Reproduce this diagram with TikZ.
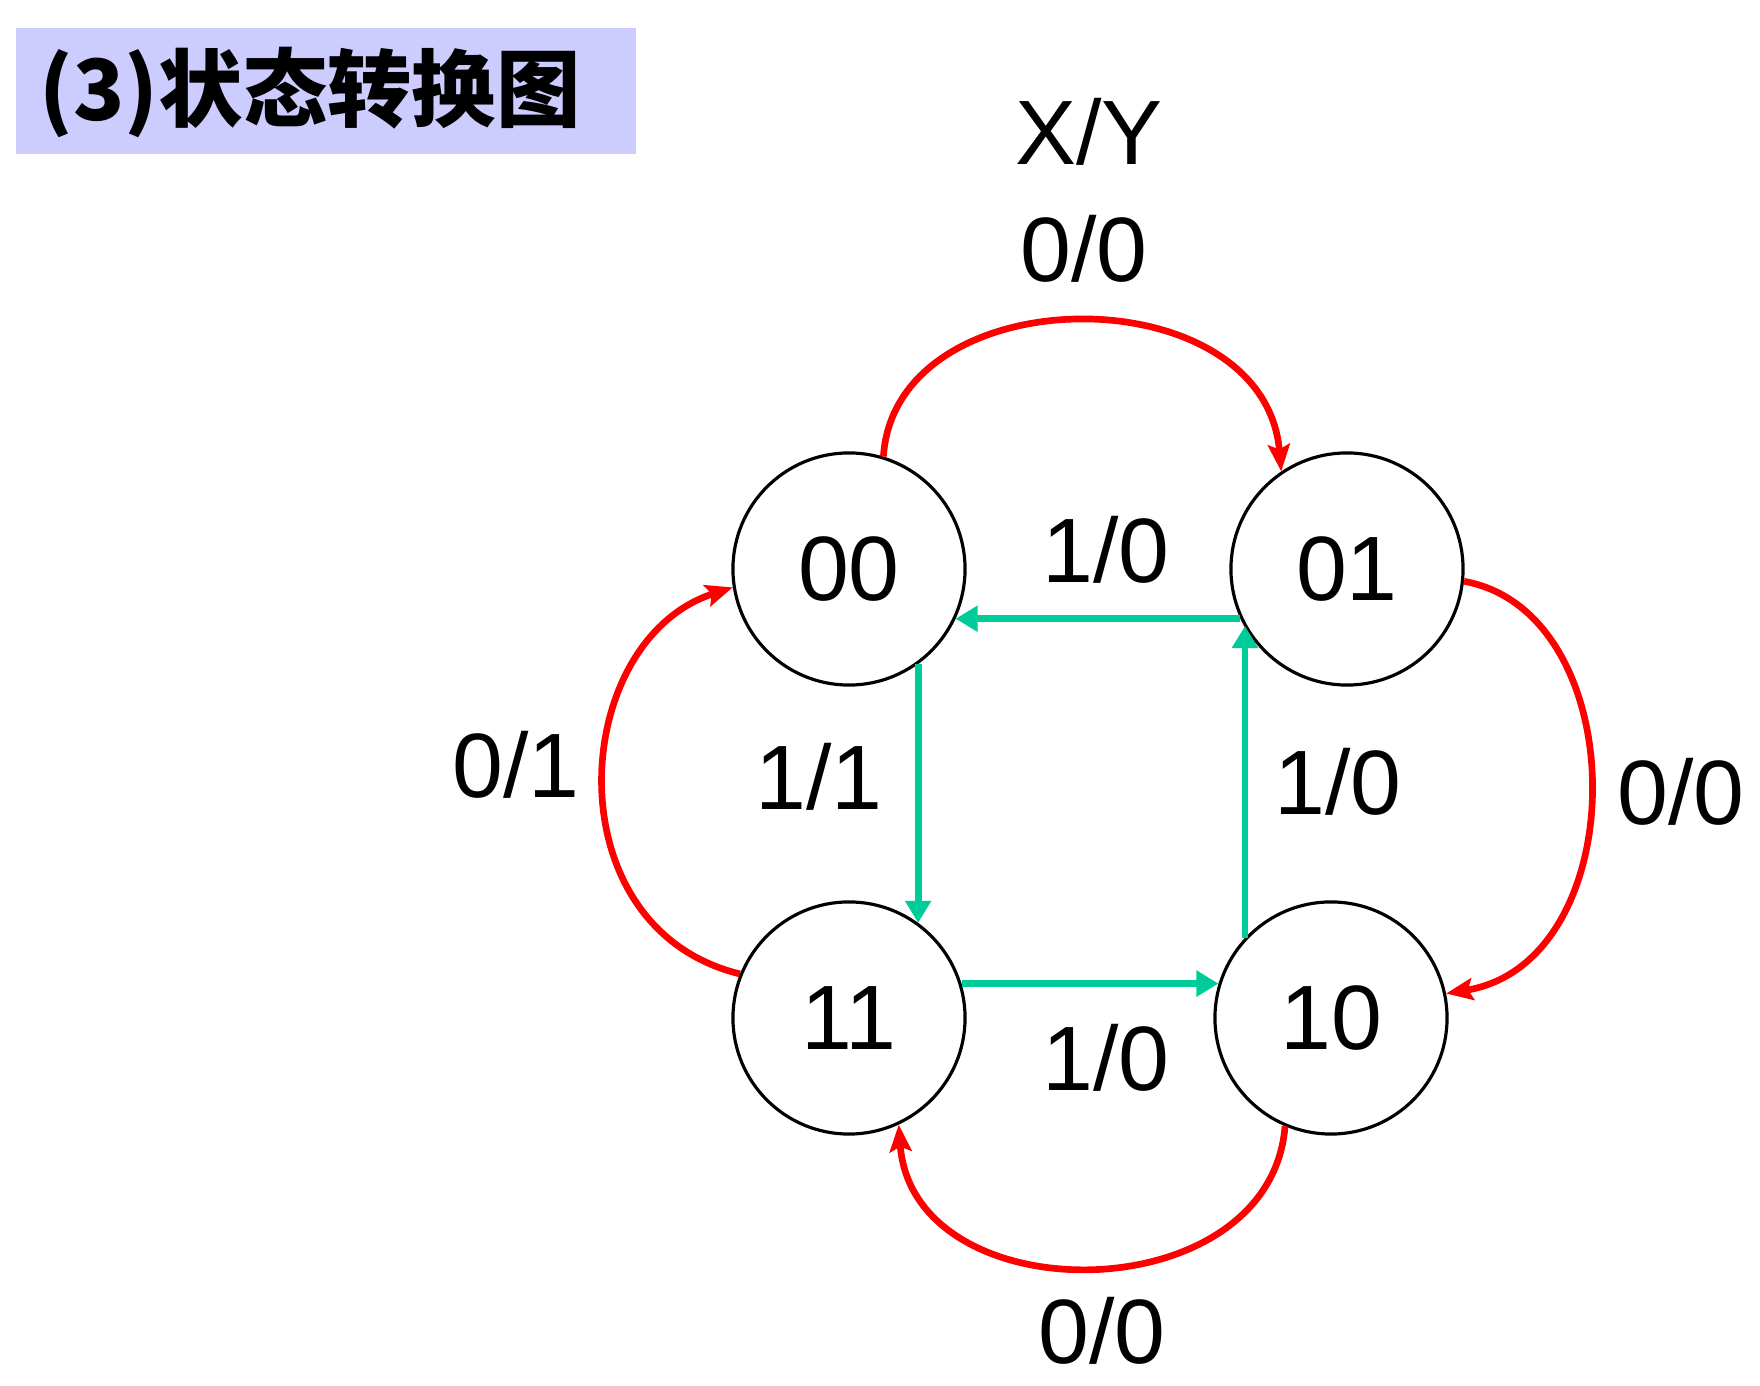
\documentclass[tikz,border=0pt]{standalone}
\usepackage{fontspec}
\setmainfont{Liberation Sans}
\newfontfamily\cjkfont{Noto Sans CJK SC}
\usepackage{tikz}
\usetikzlibrary{arrows.meta}
\definecolor{arcred}{HTML}{FF0000}
\definecolor{arcgreen}{HTML}{00CC99}
\definecolor{titleband}{HTML}{CCCCFF}

\begin{document}
\begin{tikzpicture}[x=0.01cm, y=-0.01cm,
  state/.style={circle, draw=black, line width=0.9pt, minimum size=2.32cm, inner sep=0pt,
    font=\fontsize{26}{31}\selectfont},
  lbl/.style={inner sep=0pt, font=\fontsize{26}{31}\selectfont},
  redarc/.style={arcred, line width=1.9pt, -{Stealth[length=0.27cm, width=0.22cm, inset=0.05cm]}},
  greenarc/.style={arcgreen, line width=1.9pt, -{Triangle[length=0.22cm, width=0.25cm]}}]

  \useasboundingbox (0,0) rectangle (1760,1386);

  % ── Title band ────────────────────────────────────────────────
  \fill[titleband] (16,28) rectangle (636,154);
  \node[anchor=west, inner sep=0pt, font=\cjkfont\bfseries\fontsize{24}{29}\selectfont]
    (title) at (39,92) {(3)状态转换图};

  % ── States ────────────────────────────────────────────────────
  \node[state] (s00) at (849,569)  {00};
  \node[state] (s01) at (1347,569) {01};
  \node[state] (s11) at (849,1018) {11};
  \node[state] (s10) at (1331,1018) {10};

  % ── X = 0 transitions (red, outside) ──────────────────────────
  \draw[redarc] (s00.73) .. controls +(12,-182) and +(-17,-198) .. (s01.124);
  \draw[redarc] (s01.-6) .. controls +(171,31) and +(189,-31) .. (s10.12);
  \draw[redarc] (s10.-113) .. controls +(-15,187) and +(14,191) .. (s11.-65);
  \draw[redarc] (s11.158) .. controls +(-189,-46) and +(-164,53) .. (s00.-171);

  % ── X = 1 transitions (green, inside) ─────────────────────────
  \draw[greenarc] (s01.205) -- (s00.-25);
  \draw[greenarc] (s10.137) -- (s10.137 |- s01.209);
  \draw[greenarc] (s00.-54) -- (s00.-54 |- s11.54);
  \draw[greenarc] (s11.17) -- (s10.163);

  % ── Labels ────────────────────────────────────────────────────
  \node[lbl] (legend) at (1089,132)  {X/Y};
  \node[lbl] (ltop)   at (1084,249)  {0/0};
  \node[lbl] (lmid)   at (1106,550)  {1/0};
  \node[lbl] (lleft)  at (516,765)   {0/1};
  \node[lbl] (ldown)  at (819,777)   {1/1};
  \node[lbl] (lup)    at (1338,782)  {1/0};
  \node[lbl] (lright) at (1681,792)  {0/0};
  \node[lbl] (lbot)   at (1106,1058) {1/0};
  \node[lbl] (lbase)  at (1102,1331) {0/0};

\end{tikzpicture}
\end{document}
